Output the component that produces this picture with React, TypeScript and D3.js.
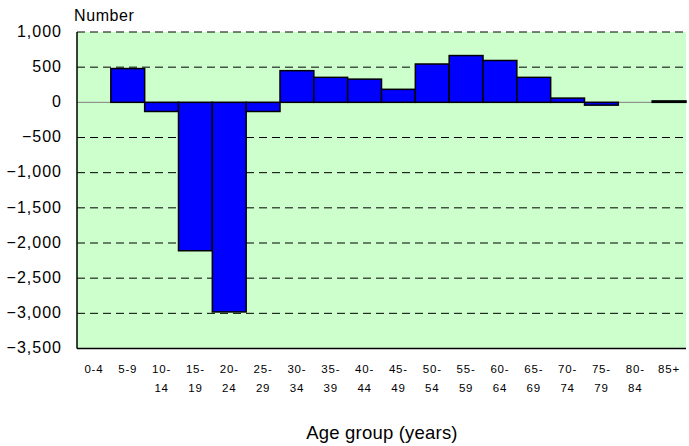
import React from "react";
import * as d3 from "d3";

// Net change in number of people by age group
const ageGroups = ["0-4", "5-9", "10-14", "15-19", "20-24", "25-29", "30-34", "35-39", "40-44", "45-49", "50-54", "55-59", "60-64", "65-69", "70-74", "75-79", "80-84", "85+"];
const values = [0, 480, -130, -2110, -2980, -130, 450, 355, 330, 185, 545, 665, 595, 355, 60, -40, 0, 20];
const yTicks = [1000, 500, 0, -500, -1000, -1500, -2000, -2500, -3000, -3500];

const W = 689;
const H = 446;
const margin = { left: 77, right: 3, top: 32, bottom: 97.5 };

export default function App() {
  const x = d3
    .scaleBand<string>()
    .domain(ageGroups)
    .range([margin.left, W - margin.right])
    .padding(0);
  const y = d3
    .scaleLinear()
    .domain([-3500, 1000])
    .range([H - margin.bottom, margin.top]);
  const fmt = d3.format(",");

  // "10-14" -> ["10-", "14"]; the shortest groups stay on one line
  const splitLabel = (s: string) => {
    const i = s.indexOf("-");
    if (s === "0-4" || s === "5-9" || i < 0) return [s];
    return [s.slice(0, i + 1), s.slice(i + 1)];
  };

  const x0 = margin.left;
  const x1 = W - margin.right;

  return (
    <svg width={W} height={H} style={{ position: "absolute", left: 0, top: 0, fontFamily: "Arial, 'Liberation Sans', sans-serif" }}>
      <rect x={0} y={0} width={W} height={H} fill="#ffffff" />
      {/* plot background */}
      <rect x={x0} y={y(1000)} width={x1 - x0} height={y(-3500) - y(1000)} fill="#CCFFCC" />

      {/* dashed gridlines */}
      {yTicks
        .filter((t) => t !== 0 && t !== -3500)
        .map((t) => (
          <line key={t} x1={x0} x2={x1} y1={y(t)} y2={y(t)} stroke="#000" strokeWidth={1} strokeDasharray="8,5" />
        ))}

      {/* zero line */}
      <line x1={x0} x2={x1} y1={y(0)} y2={y(0)} stroke="#808080" strokeWidth={1} />

      {/* bars */}
      {values.map((v, i) =>
        v === 0 ? null : (
          <rect
            key={ageGroups[i]}
            x={x(ageGroups[i])!}
            y={y(Math.max(0, v))}
            width={x.bandwidth()}
            height={Math.abs(y(v) - y(0))}
            fill="#0000FF"
            stroke="#000"
            strokeWidth={1.5}
          />
        )
      )}

      {/* axes */}
      <line x1={x0} x2={x0} y1={y(1000)} y2={y(-3500)} stroke="#000" strokeWidth={1.5} />
      <line x1={x0} x2={x1} y1={y(-3500)} y2={y(-3500)} stroke="#000" strokeWidth={1.5} />

      {/* y tick labels */}
      {yTicks.map((t) => (
        <text key={t} x={62} y={y(t)} dy="0.3em" textAnchor="end" fontSize={16} letterSpacing={1} fill="#000">
          {fmt(t)}
        </text>
      ))}

      {/* x tick labels */}
      {ageGroups.map((g) => {
        const cx = x(g)! + x.bandwidth() / 2;
        return splitLabel(g).map((line, j) => (
          <text key={g + j} x={cx} y={372.5 + j * 19.5} textAnchor="middle" fontSize={11.5} letterSpacing={0.8} fill="#000">
            {line}
          </text>
        ));
      })}

      <text x={74} y={20.7} fontSize={16} letterSpacing={0.6} fill="#000">Number</text>
      <text x={382} y={439} textAnchor="middle" fontSize={18.5} letterSpacing={0.2} fill="#000">Age group (years)</text>
    </svg>
  );
}
